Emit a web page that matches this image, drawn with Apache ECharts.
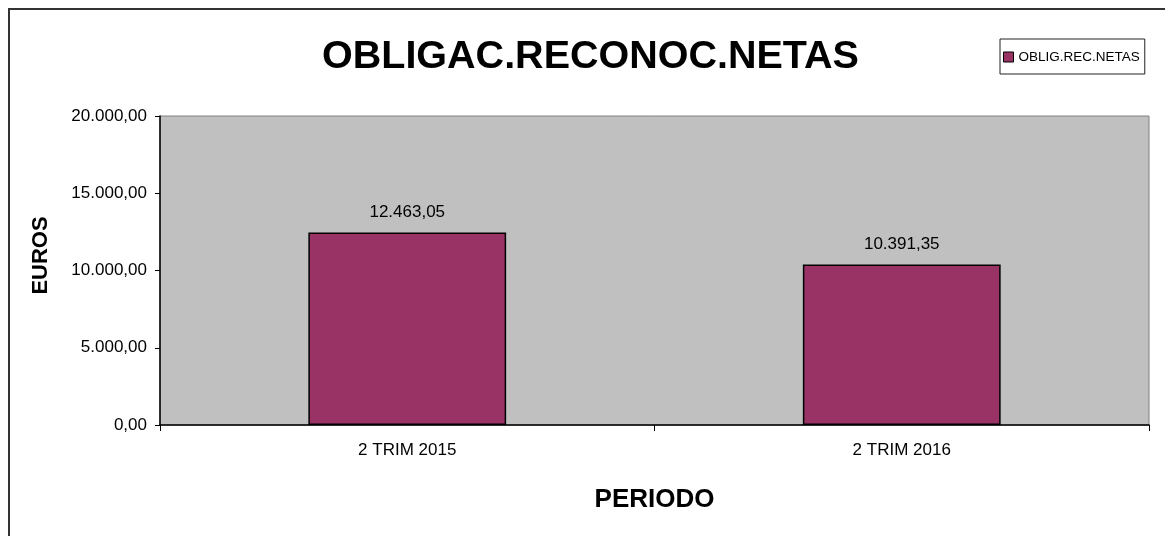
<!DOCTYPE html>
<html>
<head>
<meta charset="utf-8">
<script src="https://cdn.jsdelivr.net/npm/echarts@6/dist/echarts.min.js"></script>
<style>
  html, body { margin: 0; padding: 0; background: #fff; }
  #chart { width: 1165px; height: 536px; }
  .frame {
    position: absolute; left: 8px; top: 8px; right: -10px; bottom: -10px;
    border-left: 2px solid #333; border-top: 2px solid #333;
    pointer-events: none;
  }
</style>
</head>
<body>
<div id="chart"></div>
<div class="frame"></div>
<script>
const periods = ['2 TRIM 2015', '2 TRIM 2016']
const netObligations = [12463.05, 10391.35]
const yMin = 0
const yMax = 20000
const yStep = 5000

const sans = '"Liberation Sans", Arial, sans-serif'

function esNum(v) {
  const [i, d] = Number(v).toFixed(2).split('.')
  return i.replace(/\B(?=(\d{3})+(?!\d))/g, '.') + ',' + d
}

const chart = echarts.init(document.getElementById('chart'))
chart.setOption({
  animation: false,
  backgroundColor: 'transparent',
  title: {
    text: 'OBLIGAC.RECONOC.NETAS',
    left: 322,
    top: 37,
    padding: 0,
    textStyle: { fontFamily: sans, fontWeight: 'bold', fontSize: 39.5, color: '#000' }
  },
  legend: {
    left: 1000,
    top: 39,
    padding: [11, 5, 10, 3],
    backgroundColor: '#fff',
    borderColor: '#222',
    borderWidth: 1,
    borderRadius: 0,
    icon: 'rect',
    itemWidth: 10,
    itemHeight: 10,
    itemStyle: { borderColor: '#000', borderWidth: 1 },
    textStyle: { fontFamily: sans, fontSize: 13.5, color: '#000' },
    data: ['OBLIG.REC.NETAS']
  },
  grid: {
    left: 160, right: 16, top: 116, bottom: 111,
    show: true,
    backgroundColor: '#c0c0c0',
    borderColor: '#808080',
    borderWidth: 1
  },
  xAxis: {
    type: 'category',
    data: periods,
    name: 'PERIODO',
    nameLocation: 'middle',
    nameGap: 62,
    nameTextStyle: { fontFamily: sans, fontWeight: 'bold', fontSize: 26, color: '#000' },
    axisLine: { lineStyle: { color: '#000', width: 1.5 } },
    axisTick: { show: true, length: 6, lineStyle: { color: '#000' } },
    axisLabel: { fontFamily: sans, fontSize: 17, color: '#000', margin: 17 },
    splitLine: { show: false }
  },
  yAxis: {
    type: 'value',
    min: yMin,
    max: yMax,
    interval: yStep,
    name: 'EUROS',
    nameLocation: 'middle',
    nameRotate: 90,
    nameGap: 108,
    nameTextStyle: { fontFamily: sans, fontWeight: 'bold', fontSize: 22, color: '#000', padding: [0, 0, 0, 30] },
    axisLine: { show: true, lineStyle: { color: '#000', width: 1.5 } },
    axisTick: { show: true, length: 5, lineStyle: { color: '#000' } },
    axisLabel: { fontFamily: sans, fontSize: 17, color: '#000', margin: 13, formatter: esNum },
    splitLine: { show: false }
  },
  series: [{
    name: 'OBLIG.REC.NETAS',
    type: 'bar',
    barWidth: '40%',
    data: netObligations,
    itemStyle: { color: '#993366', borderColor: '#000', borderWidth: 1.5 },
    label: {
      show: true,
      position: 'top',
      distance: 12,
      fontFamily: sans,
      fontSize: 17,
      color: '#000',
      formatter: p => esNum(p.value)
    }
  }]
})
</script>
</body>
</html>
